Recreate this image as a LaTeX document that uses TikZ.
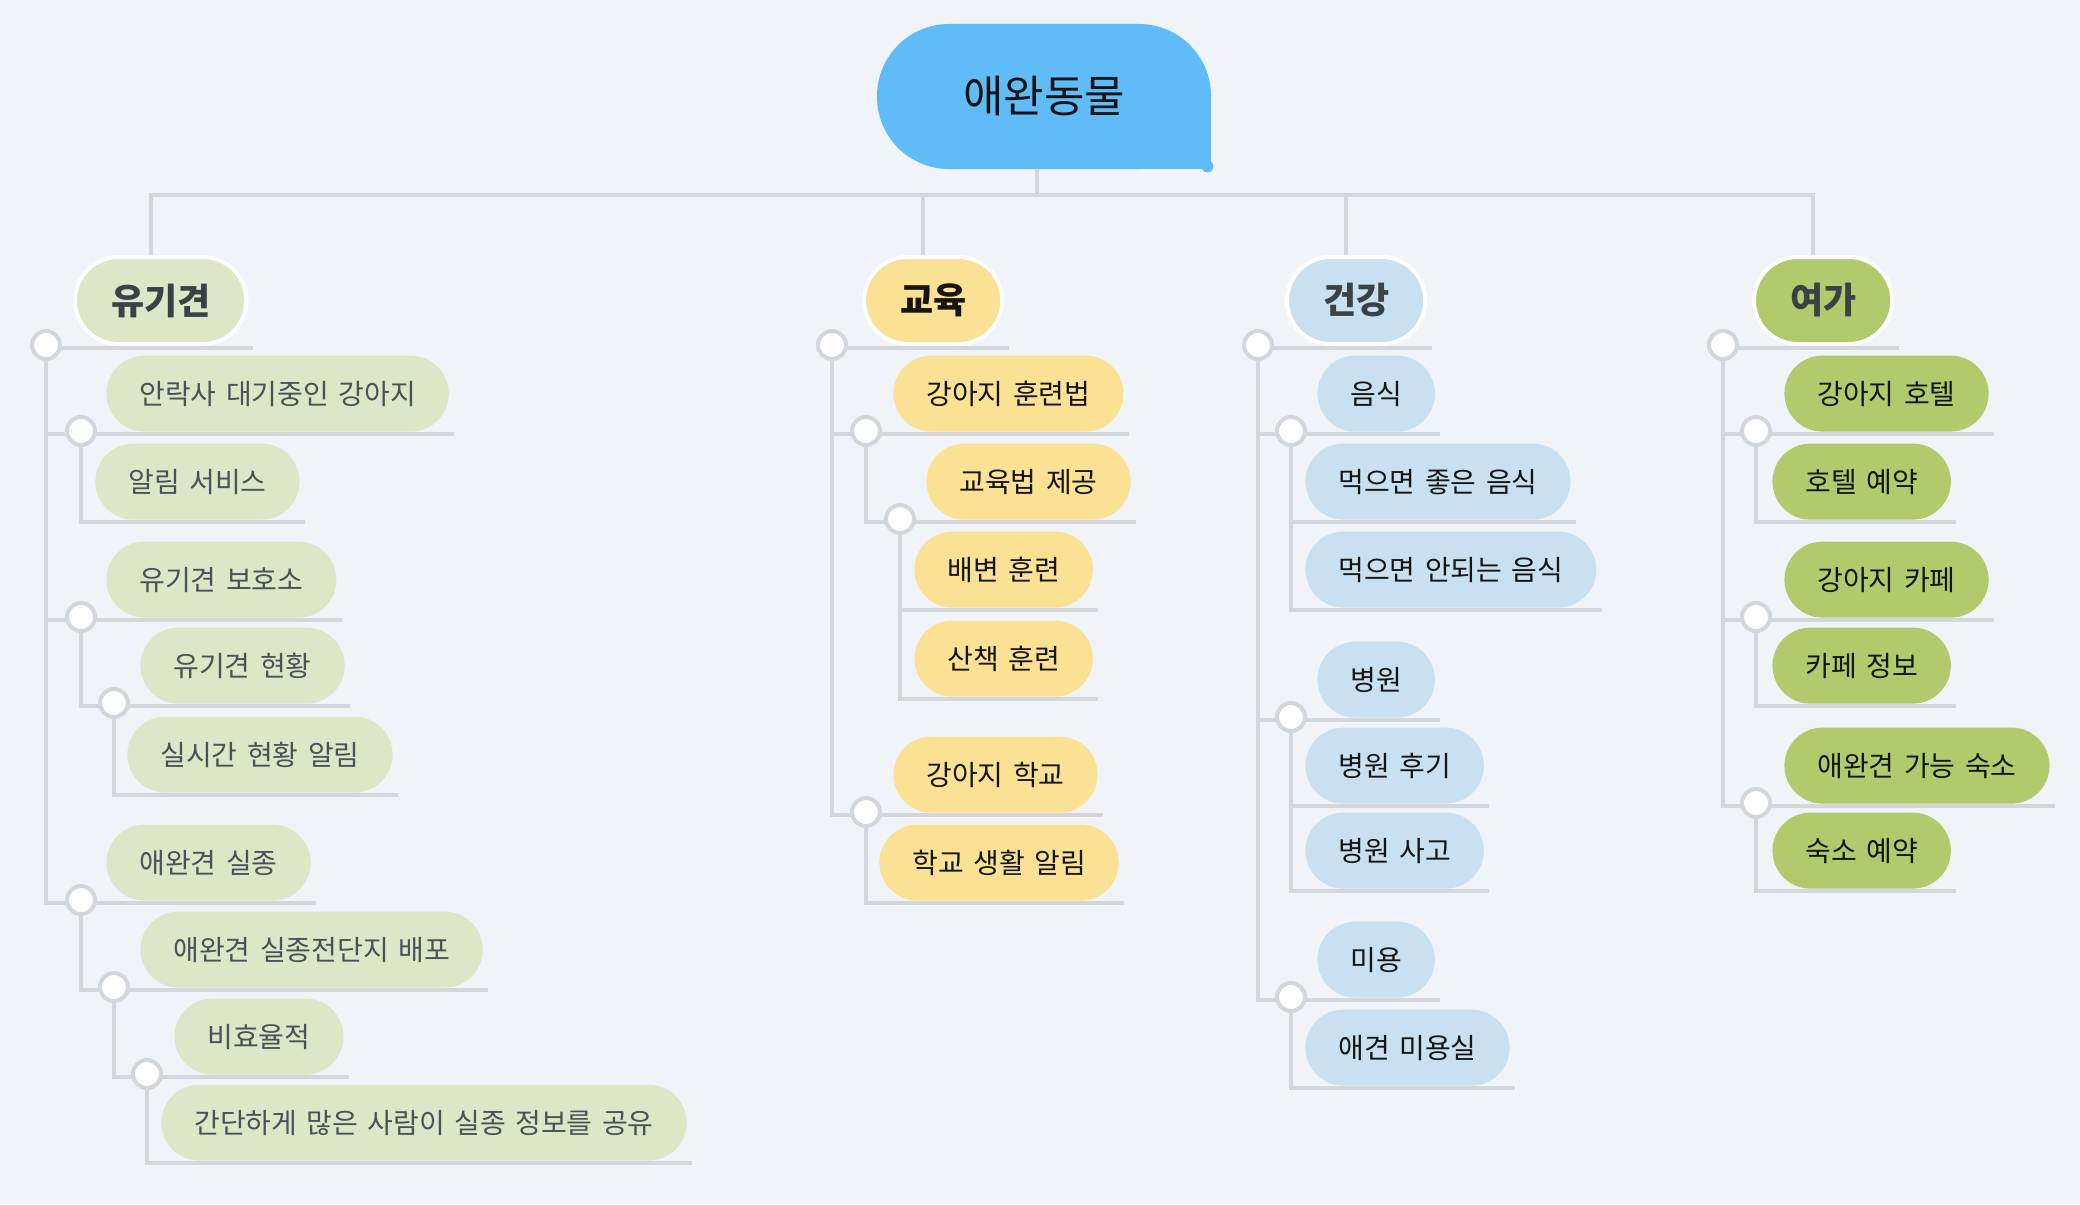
\documentclass[tikz,border=0pt]{standalone}
\usepackage{fontspec}
\setmainfont{Noto Sans CJK KR}[WordSpace=1.5]
\definecolor{bgcol}{HTML}{F0F4F8}
\definecolor{linecol}{HTML}{D3D7DB}
\definecolor{rootcol}{HTML}{60BBF9}
\definecolor{olivecol}{HTML}{DDE6C7}
\definecolor{yellowcol}{HTML}{FBE194}
\definecolor{bluecol}{HTML}{C8E0F0}
\definecolor{greencol}{HTML}{B1CA6B}
\definecolor{inkcol}{HTML}{3B4247}
\definecolor{graycol}{HTML}{4B5156}
\definecolor{blackcol}{HTML}{151515}
\pgfdeclarelayer{back}
\pgfdeclarelayer{links}
\pgfsetlayers{back,links,main}
\begin{document}
\begin{tikzpicture}
[x=0.5pt,y=-0.5pt,
  linkdecorate/.style={draw=linecol,line width=2pt},
  knobdecorate/.style={shape=circle,fill=white,draw=linecol,line width=2pt,minimum size=14pt,inner sep=0pt},
  rootdecorate/.style={shape=rectangle,fill=rootcol,rounded corners=36pt,minimum width=167pt,minimum height=72.5pt,font=\fontsize{22}{26}\selectfont,text=blackcol},
  topicdecorate/.style={shape=rectangle,rounded corners=21.75pt,draw=white,line width=2pt,minimum height=43.5pt,inner xsep=18pt,inner ysep=0pt,font=\fontsize{18}{22}\selectfont\bfseries,anchor=south west},
  leafdecorate/.style={shape=rectangle,rounded corners=19pt,minimum height=38pt,inner xsep=16.5pt,inner ysep=0pt,font=\fontsize{14}{17}\selectfont,anchor=south west}]
\useasboundingbox (0,0) rectangle (2080,1204);
\begin{pgfonlayer}{back}
\fill[bgcol] (0,0) rectangle (2080,1204);
\end{pgfonlayer}
%% root
\node[rootdecorate] (root) at (1044,96.5) {애완동물};
\fill[rootcol] ([xshift=-40pt]root.south east) rectangle ([yshift=40pt]root.south east);
\fill[rootcol] ([shift={(-4,-3)}]root.south east) circle (3pt);
\coordinate (bus) at (1037,195);
%% topics
\foreach \nodename/\txt/\x/\col/\ink in {yu/유기견/73/olivecol/inkcol,
  gy/교육/862/yellowcol/blackcol, gg/건강/1285/bluecol/inkcol,
  yg/여가/1752/greencol/inkcol} {
  \node[topicdecorate,fill=\col,text=\ink] (\nodename) at (\x,346) {\txt};
}
%% leaves
\foreach \nodename/\txt/\x/\y/\col/\ink in {
  yu1/안락사 대기중인 강아지/106/432/olivecol/graycol,
  yu11/알림 서비스/95/520/olivecol/graycol,
  yu2/유기견 보호소/106/618/olivecol/graycol,
  yu21/유기견 현황/140/704/olivecol/graycol,
  yu211/실시간 현황 알림/127/793/olivecol/graycol,
  yu3/애완견 실종/106/901/olivecol/graycol,
  yu31/애완견 실종전단지 배포/140/988/olivecol/graycol,
  yu311/비효율적/174/1075/olivecol/graycol,
  yu3111/간단하게 많은 사람이 실종 정보를 공유/161/1161/olivecol/graycol,
  gy1/강아지 훈련법/893/432/yellowcol/blackcol,
  gy11/교육법 제공/926/520/yellowcol/blackcol,
  gy111/배변 훈련/914/608/yellowcol/blackcol,
  gy112/산책 훈련/914/697/yellowcol/blackcol,
  gy2/강아지 학교/893/813/yellowcol/blackcol,
  gy21/학교 생활 알림/879/901/yellowcol/blackcol,
  gg1/음식/1317/432/bluecol/blackcol,
  gg11/먹으면 좋은 음식/1305/520/bluecol/blackcol,
  gg12/먹으면 안되는 음식/1305/608/bluecol/blackcol,
  gg2/병원/1317/718/bluecol/blackcol,
  gg21/병원 후기/1305/804/bluecol/blackcol,
  gg22/병원 사고/1305/889/bluecol/blackcol,
  gg3/미용/1317/998/bluecol/blackcol,
  gg31/애견 미용실/1305/1086/bluecol/blackcol,
  yg1/강아지 호텔/1784/432/greencol/blackcol,
  yg11/호텔 예약/1772/520/greencol/blackcol,
  yg2/강아지 카페/1784/618/greencol/blackcol,
  yg21/카페 정보/1772/704/greencol/blackcol,
  yg3/애완견 가능 숙소/1784/804/greencol/blackcol,
  yg31/숙소 예약/1772/889/greencol/blackcol} {
  \node[leafdecorate,fill=\col,text=\ink] (\nodename) at (\x,\y) {\txt};
}
%% knobs
\foreach \nodename/\x/\y in {kyu/46/345, kyu1/81/431, kyu2/81/617,
  kyu21/114/703, kyu3/81/900, kyu31/114/987, kyu311/147/1074,
  kgy/832/345, kgy1/866/431, kgy11/900/519, kgy2/866/812,
  kgg/1258/345, kgg1/1291/431, kgg2/1291/717, kgg3/1291/997,
  kyg/1723/345, kyg1/1756/431, kyg2/1756/617, kyg3/1756/803} {
  \node[knobdecorate] (\nodename) at (\x,\y) {};
}
%% edges
\begin{pgfonlayer}{links}
\draw[linkdecorate] (root.south -| bus) -- (bus);
\foreach \endnode in {yu, gy, gg, yg} {
  \draw[linkdecorate] (bus) -| ([xshift=-5pt]\endnode.north);
}
\foreach \startnode/\endnode in {kyu/yu, kyu/yu1, kyu/yu2, kyu/yu3,
  kyu1/yu11, kyu2/yu21, kyu21/yu211, kyu3/yu31, kyu31/yu311, kyu311/yu3111,
  kgy/gy, kgy/gy1, kgy/gy2, kgy1/gy11, kgy11/gy111, kgy11/gy112, kgy2/gy21,
  kgg/gg, kgg/gg1, kgg/gg2, kgg/gg3, kgg1/gg11, kgg1/gg12, kgg2/gg21,
  kgg2/gg22, kgg3/gg31,
  kyg/yg, kyg/yg1, kyg/yg2, kyg/yg3, kyg1/yg11, kyg2/yg21, kyg3/yg31} {
  \draw[linkdecorate] (\startnode) |- ([shift={(5,2)}]\endnode.south east);
}
\end{pgfonlayer}
\end{tikzpicture}
\end{document}
